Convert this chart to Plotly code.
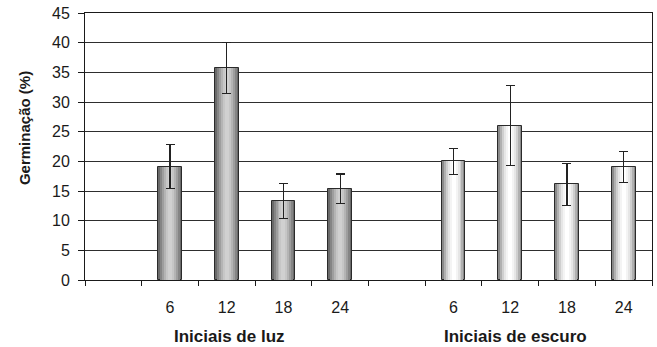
import plotly.graph_objects as go

# ---- data ----
hours = ["6", "12", "18", "24"]
luz_mean = [19.1, 35.7, 13.3, 15.4]
luz_err = [3.7, 4.3, 3.0, 2.45]
escuro_mean = [20.0, 26.0, 16.1, 19.05]
escuro_err = [2.2, 6.75, 3.5, 2.55]
group_labels = ["Iniciais de luz", "Iniciais de escuro"]
y_title = "Germinação (%)"

# slot layout: empty, 4 luz, empty, 4 escuro
n_slots = 10
luz_x = [1 + i for i in range(len(hours))]
escuro_x = [6 + i for i in range(len(hours))]

# layered widths/colours to imitate cylinder shading
widths = [0.42, 0.35, 0.28, 0.21, 0.14, 0.07]
luz_colors = ["#6a6a6a", "#858585", "#9e9e9e", "#b4b4b4", "#c6c6c6", "#d0d0d0"]
esc_colors = ["#8a8a8a", "#b0b0b0", "#cfcfcf", "#e6e6e6", "#f4f4f4", "#ffffff"]

fig = go.Figure()
for xs, ys, errs, cols in [(luz_x, luz_mean, luz_err, luz_colors),
                           (escuro_x, escuro_mean, escuro_err, esc_colors)]:
    for k, (w, c) in enumerate(zip(widths, cols)):
        last = k == len(widths) - 1
        fig.add_trace(go.Bar(
            x=xs, y=ys, width=[w] * len(xs),
            marker=dict(color=c,
                        line=dict(color="#2a2a2a" if k == 0 else c, width=1 if k == 0 else 0)),
            error_y=dict(type="data", array=errs, visible=last,
                         color="#222222", thickness=1.2, width=4.5),
            showlegend=False, hoverinfo="skip",
        ))

tickvals = luz_x + escuro_x
ticktext = hours + hours

fig.update_layout(
    width=657, height=347,
    margin=dict(l=85, r=5, t=13, b=67),
    paper_bgcolor="white", plot_bgcolor="white",
    barmode="overlay", bargap=0,
    font=dict(family="Liberation Sans, Arial, sans-serif", size=16, color="#1a1a1a"),
    xaxis=dict(range=[-0.5, n_slots - 0.5], tickvals=tickvals, ticktext=ticktext,
               ticks="", showgrid=False, zeroline=False,
               showline=True, linecolor="#1a1a1a", linewidth=1, mirror=True,
               minor=dict(tickvals=[i - 0.5 for i in range(n_slots + 1)], ticks="outside",
                          ticklen=5, tickcolor="#1a1a1a", showgrid=False),
               tickfont=dict(size=16), ticklabelstandoff=13),
    yaxis=dict(range=[0, 45], dtick=5, tick0=0, ticks="outside", ticklen=6,
               tickcolor="#1a1a1a", showgrid=True, gridcolor="#2e2e2e", gridwidth=1,
               zeroline=False, showline=True, linecolor="#1a1a1a", linewidth=1, mirror=True,
               tickfont=dict(size=16), ticklabelstandoff=5),
    annotations=[
        dict(text="<b>%s</b>" % group_labels[0], x=0.254, y=-0.21, xref="paper", yref="paper",
             showarrow=False, xanchor="center", yanchor="middle", font=dict(size=17)),
        dict(text="<b>%s</b>" % group_labels[1], x=0.760, y=-0.21, xref="paper", yref="paper",
             showarrow=False, xanchor="center", yanchor="middle", font=dict(size=17)),
        dict(text="<b>%s</b>" % y_title, x=-0.1076, y=0.569, xref="paper", yref="paper",
             showarrow=False, xanchor="center", yanchor="middle", textangle=-90,
             font=dict(size=15)),
    ],
)

fig.write_html("out.html")
